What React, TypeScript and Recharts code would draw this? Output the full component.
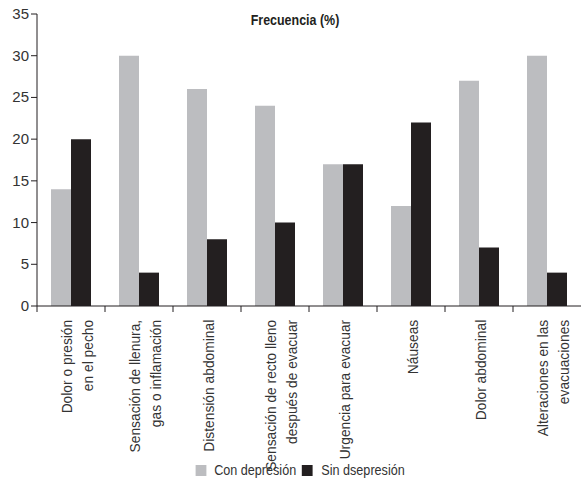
import { Bar, BarChart, XAxis, YAxis } from 'recharts'

const CATEGORIES = [
  'Dolor o presión|en el pecho',
  'Sensación de llenura,|gas o inflamación',
  'Distensión abdominal',
  'Sensación de recto lleno|después de evacuar',
  'Urgencia para evacuar',
  'Náuseas',
  'Dolor abdominal',
  'Alteraciones en las|evacuaciones',
]
const CON_DEPRESION = [14, 30, 26, 24, 17, 12, 27, 30]
const SIN_DEPRESION = [20, 4, 8, 10, 17, 22, 7, 4]
const Y_TICKS = [0, 5, 10, 15, 20, 25, 30, 35]

const GRAY = '#bcbdc0'
const BLACK = '#231f20'
const TEXT = '#333333'
const FONT = '"Liberation Sans", Arial, sans-serif'

const data = CATEGORIES.map((name, i) => ({
  name,
  con: CON_DEPRESION[i],
  sin: SIN_DEPRESION[i],
}))

// label rotated upwards, with a tick mark on the left edge of each category band
function CategoryTick({ x, y, payload, width, visibleTicksCount }: any) {
  const lines = String(payload.value).split('|')
  const band = Number(width) / Number(visibleTicksCount || CATEGORIES.length)
  const edge = x - band / 2
  return (
    <g>
      {Number.isFinite(edge) && (
        <line x1={edge} x2={edge} y1={y} y2={y + 6} stroke={BLACK} strokeWidth={1} />
      )}
      <g transform={`translate(${x},${y})`}>
        <text
          transform="rotate(-90) scale(0.92,1)"
          textAnchor="end"
          fill={TEXT}
          fontSize={15}
          fontFamily={FONT}
        >
          {lines.map((line, i) => (
            <tspan key={i} x={-15} y={lines.length === 1 ? 7 : 1 + i * 21}>
              {line}
            </tspan>
          ))}
        </text>
      </g>
    </g>
  )
}

function ValueTick({ x, y, payload }: any) {
  return (
    <text x={x} y={y} dy={5} textAnchor="end" fill={TEXT} fontSize={15} fontFamily={FONT}>
      {payload.value}
    </text>
  )
}

export default function App() {
  return (
    <div style={{ position: 'absolute', left: 0, top: 0, width: 582, height: 483, background: '#fff' }}>
      <div
        style={{
          position: 'absolute',
          top: 11,
          left: 0,
          width: 590,
          textAlign: 'center',
          fontFamily: FONT,
          fontWeight: 'bold',
          fontSize: 15,
          color: BLACK,
          transform: 'scaleX(0.83)',
          transformOrigin: '295px 0',
        }}
      >
        Frecuencia (%)
      </div>
      <BarChart
        width={582}
        height={483}
        data={data}
        margin={{ top: 14, right: 1, bottom: 37, left: 0 }}
        barGap={0}
        barSize={20}
      >
        <XAxis
          dataKey="name"
          interval={0}
          height={140}
          tickSize={0}
          tickMargin={0}
          axisLine={{ stroke: BLACK }}
          tickLine={false}
          tick={<CategoryTick />}
        />
        <YAxis
          domain={[0, 35]}
          ticks={Y_TICKS}
          width={37}
          tickSize={6}
          tickMargin={2}
          axisLine={{ stroke: BLACK }}
          tickLine={{ stroke: BLACK }}
          tick={<ValueTick />}
        />
        <Bar dataKey="con" name="Con depresión" fill={GRAY} isAnimationActive={false} />
        <Bar dataKey="sin" name="Sin dsepresión" fill={BLACK} isAnimationActive={false} />
      </BarChart>
      <div
        style={{
          position: 'absolute',
          top: 462,
          left: 0,
          width: 600,
          display: 'flex',
          justifyContent: 'center',
          alignItems: 'center',
          fontFamily: FONT,
          fontSize: 14,
          color: TEXT,
          transform: 'scaleX(0.9)',
          transformOrigin: '300px 0',
        }}
      >
        <span style={{ width: 12, height: 11, background: GRAY, marginRight: 9 }} />
        <span style={{ marginRight: 6 }}>Con depresión</span>
        <span style={{ width: 12, height: 11, background: BLACK, marginRight: 10 }} />
        <span>Sin dsepresión</span>
      </div>
    </div>
  )
}
